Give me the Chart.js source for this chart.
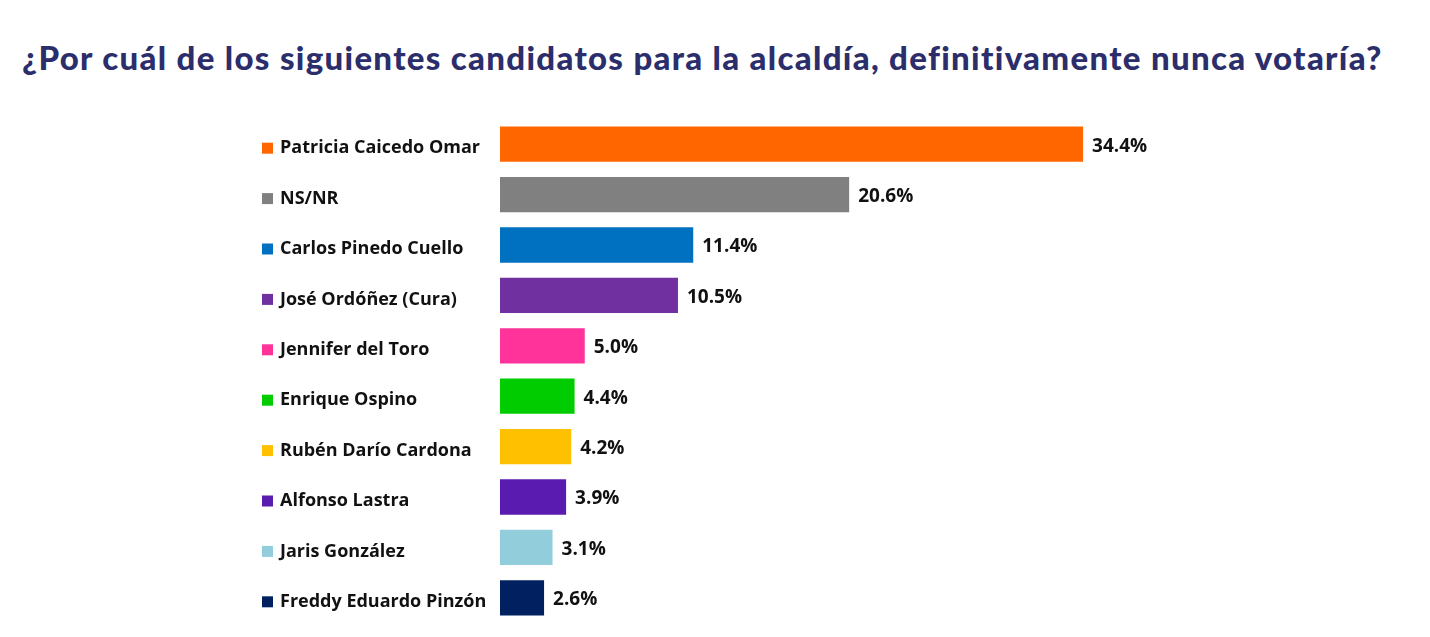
<!DOCTYPE html>
<html>
<head>
<meta charset="utf-8">
<script src="https://cdn.jsdelivr.net/npm/chart.js@4"></script>
<style>
  body { margin: 0; background: #fff; }
  #wrap { position: relative; width: 1430px; height: 637px; }
  #title {
    position: absolute; left: 22px; top: 37px; white-space: nowrap;
    font-family: "Lato", sans-serif; font-weight: 900; font-size: 33px;
    color: #2B2E6B; letter-spacing: 1.3px;
  }
  canvas { position: absolute; left: 0; top: 0; }
</style>
</head>
<body>
<div id="wrap">
  <div id="title">¿Por cuál de los siguientes candidatos para la alcaldía, definitivamente nunca votaría?</div>
  <canvas id="chart" width="1430" height="637"></canvas>
</div>
<script>
// candidatos y porcentajes
const candidates = [
  "Patricia Caicedo Omar", "NS/NR", "Carlos Pinedo Cuello", "José Ordóñez (Cura)",
  "Jennifer del Toro", "Enrique Ospino", "Rubén Darío Cardona", "Alfonso Lastra",
  "Jaris González", "Freddy Eduardo Pinzón"
];
const values = [34.4, 20.6, 11.4, 10.5, 5.0, 4.4, 4.2, 3.9, 3.1, 2.6];
const colors = [
  "#FF6600", "#808080", "#0070C0", "#7030A0", "#FF3399",
  "#00CC00", "#FFC000", "#5A1BB0", "#92CDDC", "#002060"
];

const labelFont = 'bold 18px "Open Sans", sans-serif';
const valueFont = 'bold 19px "Open Sans", sans-serif';

// dibuja el cuadrito de color y el nombre a la izquierda de cada barra
const sideLabels = {
  id: "sideLabels",
  afterDatasetsDraw(chart) {
    const ctx = chart.ctx;
    const y = chart.scales.y;
    const meta = chart.getDatasetMeta(0);
    ctx.save();
    ctx.textBaseline = "middle";
    ctx.textAlign = "left";
    candidates.forEach((name, i) => {
      const cy = y.getPixelForValue(i) + 4;
      ctx.fillStyle = colors[i];
      ctx.fillRect(262, cy - 5.5, 11, 11);
      ctx.fillStyle = "#111";
      ctx.font = labelFont;
      ctx.fillText(name, 280, cy);
      // valor al final de la barra
      const bar = meta.data[i];
      ctx.font = valueFont;
      ctx.fillText(values[i].toFixed(1) + "%", bar.x + 9, cy - 2);
    });
    ctx.restore();
  }
};

new Chart(document.getElementById("chart"), {
  type: "bar",
  data: {
    labels: candidates,
    datasets: [{
      data: values,
      backgroundColor: colors,
      categoryPercentage: 1,
      barPercentage: 0.7,
    }],
  },
  options: {
    indexAxis: "y",
    responsive: false,
    animation: false,
    layout: { padding: { left: 500, right: 252, top: 119, bottom: 14 } },
    plugins: { legend: { display: false }, tooltip: { enabled: false } },
    scales: {
      x: { min: 0, max: 40, display: false },
      y: { display: false },
    },
  },
  plugins: [sideLabels],
});
</script>
</body>
</html>
